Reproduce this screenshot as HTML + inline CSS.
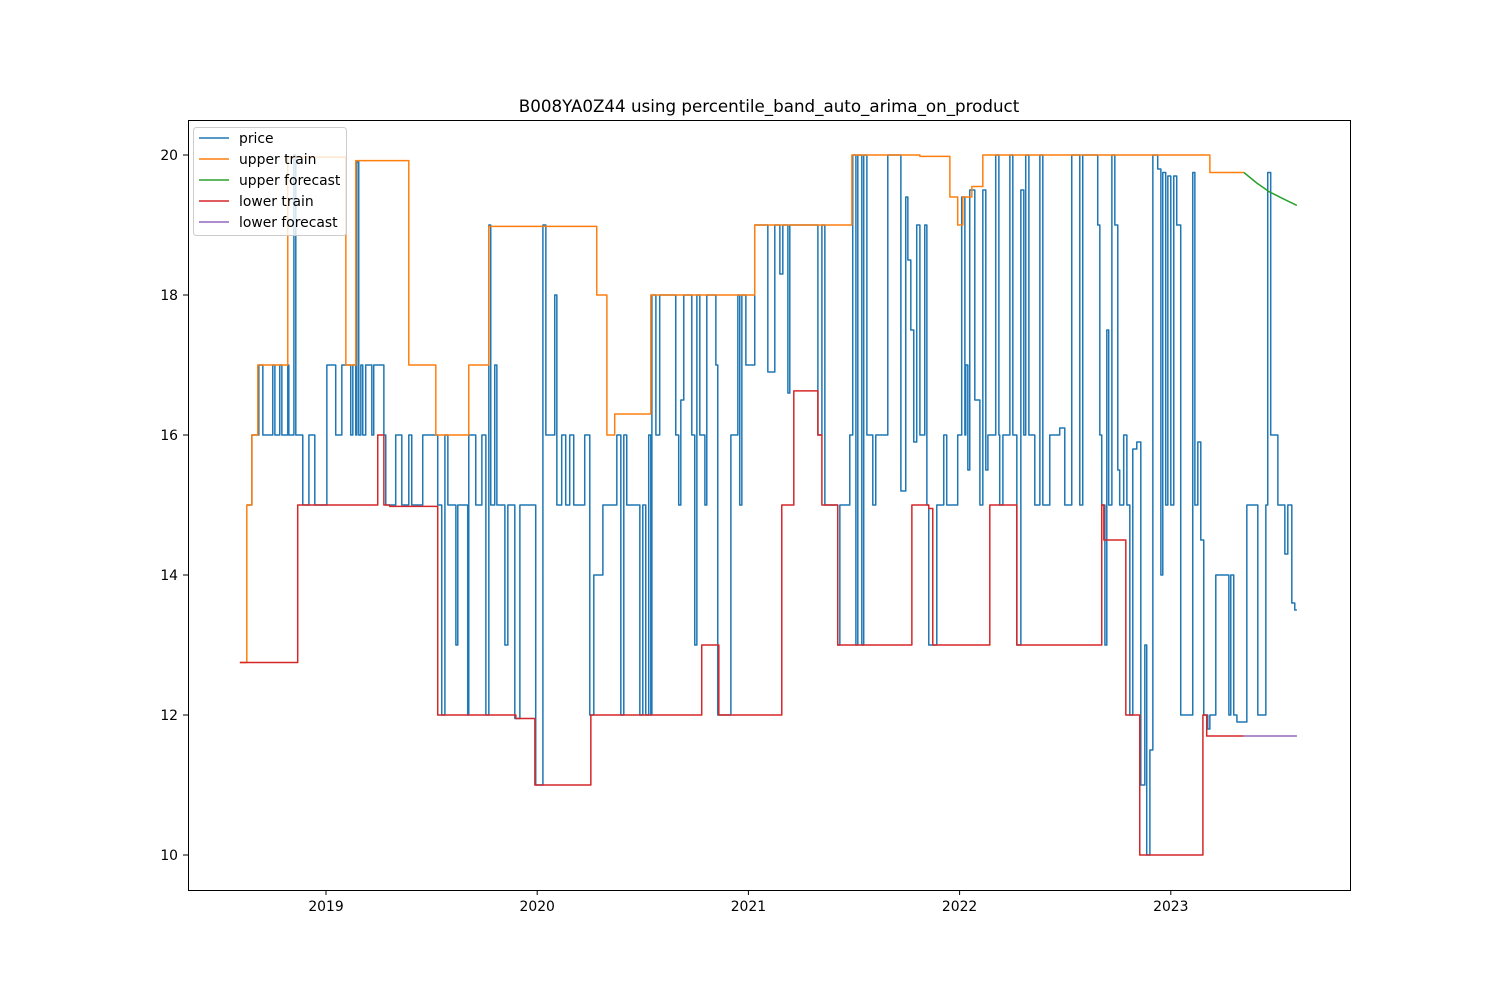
<!DOCTYPE html>
<html><head><meta charset="utf-8"><style>
body{margin:0;background:#fff}
svg text{font-family:"DejaVu Sans","Liberation Sans",sans-serif;fill:#000}
</style></head><body>
<svg id="chart" width="1500" height="1000" xmlns="http://www.w3.org/2000/svg">
<rect width="1500" height="1000" fill="#fff"/>
<text x="769" y="112" font-size="16.7" text-anchor="middle">B008YA0Z44 using percentile_band_auto_arima_on_product</text>
<g id="series" clip-path="url(#clip)"></g>
<clipPath id="clip"><rect x="188" y="120" width="1162" height="770"/></clipPath>
<rect x="188.5" y="120.5" width="1162" height="770" fill="none" stroke="#000" stroke-width="1"/>
<g id="xaxis"></g>
<g id="yaxis"></g>
<g>
<rect x="193.5" y="127.5" width="153" height="108" rx="3" fill="#fff" fill-opacity="0.8" stroke="#ccc"/>
<g id="legend-items"></g>
</g>
</svg>
<script>
const yearTicks=[2019,2020,2021,2022,2023];
const valueTicks=[10,12,14,16,18,20];
const priceDates=[2018.625,2018.649,2018.682,2018.701,2018.748,2018.758,2018.781,2018.791,2018.819,2018.824,2018.848,2018.857,2018.890,2018.919,2018.947,2019.004,2019.046,2019.075,2019.117,2019.127,2019.141,2019.146,2019.155,2019.165,2019.174,2019.188,2019.217,2019.226,2019.274,2019.283,2019.330,2019.359,2019.392,2019.406,2019.458,2019.529,2019.548,2019.563,2019.577,2019.615,2019.624,2019.671,2019.676,2019.709,2019.738,2019.757,2019.771,2019.780,2019.799,2019.809,2019.847,2019.861,2019.894,2019.918,2019.993,2020.027,2020.041,2020.083,2020.093,2020.116,2020.135,2020.154,2020.173,2020.225,2020.249,2020.268,2020.311,2020.377,2020.396,2020.410,2020.424,2020.486,2020.500,2020.514,2020.528,2020.538,2020.543,2020.562,2020.580,2020.656,2020.670,2020.680,2020.694,2020.732,2020.746,2020.756,2020.770,2020.794,2020.803,2020.846,2020.855,2020.917,2020.950,2020.959,2020.969,2020.988,2021.030,2021.092,2021.125,2021.149,2021.163,2021.187,2021.196,2021.329,2021.348,2021.362,2021.423,2021.433,2021.480,2021.494,2021.509,2021.518,2021.537,2021.546,2021.561,2021.589,2021.603,2021.660,2021.722,2021.745,2021.755,2021.769,2021.783,2021.797,2021.812,2021.835,2021.845,2021.854,2021.892,2021.925,2021.939,2021.991,2022.010,2022.025,2022.029,2022.039,2022.048,2022.072,2022.096,2022.110,2022.124,2022.134,2022.171,2022.186,2022.190,2022.205,2022.238,2022.252,2022.271,2022.290,2022.304,2022.313,2022.328,2022.356,2022.380,2022.394,2022.427,2022.474,2022.498,2022.531,2022.569,2022.583,2022.654,2022.664,2022.673,2022.688,2022.697,2022.706,2022.721,2022.735,2022.749,2022.758,2022.777,2022.792,2022.806,2022.820,2022.839,2022.858,2022.877,2022.886,2022.901,2022.915,2022.938,2022.953,2022.962,2022.976,2022.986,2023.000,2023.014,2023.028,2023.047,2023.104,2023.114,2023.128,2023.142,2023.156,2023.175,2023.185,2023.213,2023.275,2023.284,2023.298,2023.313,2023.360,2023.412,2023.450,2023.459,2023.473,2023.507,2023.540,2023.554,2023.573,2023.587,2023.597];
const priceValues=[15,16,17,16,17,16,17,16,17,16,20,16,15,16,15,17,16,17,16,17,16,19.9,16,17,16,17,16,17,16,15,16,15,16,15,16,15,12,16,15,13,15,12,16,15,16,12,19,15,17,15,13,15,11.95,15,11,19,16,18,15,16,15,16,15,16,12,14,15,16,12,16,15,12,15,12,16,12,18,16,18,16,15,16.5,18,16,13,18,16,15,18,17,12,16,18,15,18,17,19,16.9,19,18.3,19,16.6,19,16,19,15,13,15,16,20,13,20,13,20,16,15,16,20,15.2,19.4,18.5,17.5,15.9,19,16,19,15,13,15,16,15,16,19.4,16,17,15.5,19.5,16.5,15,19.5,15.5,16,20,16,15,16,20,16,13,19.5,16,20,16,15,20,15,16,16.1,15,20,15,20,19,16,15,13,17.5,15,20,19,15.5,15,16,15,12,15.8,15.9,11,13,10,11.5,20,19.8,14,19.75,15,19.7,15,19.7,19,12,19.75,15,15.9,14.5,12,11.8,12,14,12,14,12,11.9,15,12,15,19.75,16,15,14.3,15,13.6,13.5,13.5];
const upperTrainDates=[2018.592,2018.625,2018.649,2018.677,2018.819,2019.094,2019.141,2019.392,2019.520,2019.676,2019.771,2020.282,2020.330,2020.367,2020.538,2021.030,2021.490,2021.812,2021.954,2021.991,2022.015,2022.058,2022.110,2023.185,2023.346];
const upperTrainValues=[12.75,15,16,17,19.97,17,19.92,17,16,17,18.98,18,16,16.3,18,19,20,19.98,19.4,19,19.4,19.55,20,19.75,19.75];
const upperForecastDates=[2023.346,2023.407,2023.469,2023.535,2023.597];
const upperForecastValues=[19.75,19.6,19.47,19.37,19.28];
const lowerTrainDates=[2018.592,2018.866,2019.245,2019.274,2019.302,2019.529,2019.899,2019.989,2020.254,2020.779,2020.860,2021.158,2021.215,2021.329,2021.348,2021.423,2021.774,2021.854,2021.873,2022.143,2022.271,2022.673,2022.683,2022.787,2022.853,2023.152,2023.170,2023.346];
const lowerTrainValues=[12.75,15,16,15,14.98,12,11.95,11,12,13,12,15,16.63,16,15,13,15,14.95,13,15,13,15,14.5,12,10,12,11.7,11.7];
const lowerForecastDates=[2023.346,2023.597];
const lowerForecastValues=[11.7,11.7];

const xScale=t=>326+(t-2019)*211.2;
const yScale=v=>855-(v-10)*70;
const NS='http://www.w3.org/2000/svg';
function mk(tag,attrs,parent){const e=document.createElementNS(NS,tag);for(const k in attrs)e.setAttribute(k,attrs[k]);parent.appendChild(e);return e;}

const xa=document.getElementById('xaxis');
yearTicks.forEach(y=>{const x=xScale(y);
 const l=mk('line',{x1:x,x2:x,y1:890,y2:895,stroke:'#000'},xa);
 
 
 const t=mk('text',{x:x,y:911,'font-size':13.9,'text-anchor':'middle'},xa);t.textContent=y;
 
 
});
const ya=document.getElementById('yaxis');
valueTicks.forEach(v=>{const y=yScale(v);
 const l=mk('line',{x1:183,x2:188,y1:y,y2:y,stroke:'#000'},ya);
 
 
 const t=mk('text',{x:178,y:y+5,'font-size':13.9,'text-anchor':'end'},ya);t.textContent=v;
 
 
});

function stepPath(ds,vs,step){let d='';
 for(let i=0;i<ds.length;i++){const x=xScale(ds[i]),y=yScale(vs[i]);
  if(i===0)d+='M'+x+','+y;
  else if(step)d+='H'+x+'V'+y;
  else d+='L'+x+','+y;}
 return d;}
const g=document.getElementById('series');
const series=[
 ['price-line',priceDates,priceValues,'#1f77b4',true],
 ['upper-train-line',upperTrainDates,upperTrainValues,'#ff7f0e',true],
 ['upper-forecast-line',upperForecastDates,upperForecastValues,'#2ca02c',false],
 ['lower-train-line',lowerTrainDates,lowerTrainValues,'#d62728',true],
 ['lower-forecast-line',lowerForecastDates,lowerForecastValues,'#9467bd',false]];
series.forEach(s=>{const p=mk('path',{d:stepPath(s[1],s[2],s[4]),fill:'none',stroke:s[3],'stroke-width':1.5,'stroke-linejoin':'round'},g);
 
 
});
const legendLabels=['price','upper train','upper forecast','lower train','lower forecast'];
const li=document.getElementById('legend-items');
legendLabels.forEach((lab,i)=>{const y=138+i*21;
 const l=mk('line',{x1:199,x2:229,y1:y,y2:y,stroke:series[i][3],'stroke-width':1.5},li);
 
 
 const t=mk('text',{x:239,y:y+5,'font-size':13.9},li);t.textContent=lab;
 
 
});
</script>
</body></html>
